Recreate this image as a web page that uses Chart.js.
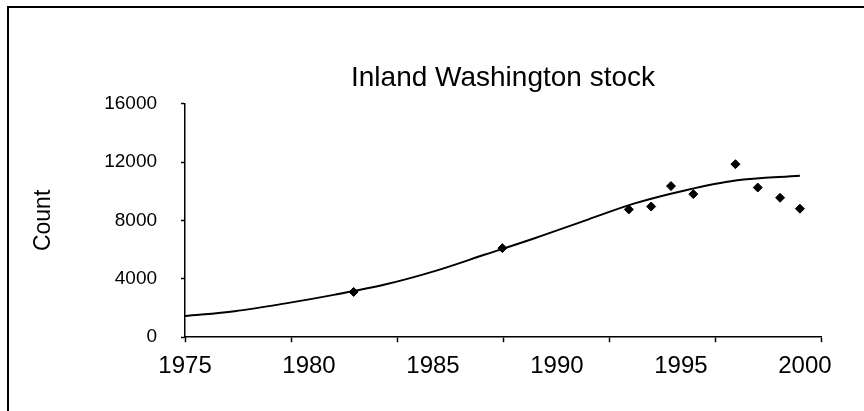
<!DOCTYPE html>
<html>
<head>
<meta charset="utf-8">
<script src="https://cdn.jsdelivr.net/npm/chart.js@4/dist/chart.umd.min.js"></script>
<style>
  html, body { margin: 0; padding: 0; background: #fff; overflow: hidden; }
  #wrap { position: relative; width: 864px; height: 411px; }
  #frame { position: absolute; left: 7px; top: 6px; width: 900px; height: 450px;
           border-left: 2px solid #000; border-top: 2px solid #000; pointer-events: none; }
  canvas { position: absolute; left: 0; top: 0; }
</style>
</head>
<body>
<div id="wrap">
  <canvas id="myChart" width="864" height="411"></canvas>
  <div id="frame"></div>
</div>
<script>
// observed counts (years as read against the printed axis labels)
const obsYears  = [1981.8, 1987.8, 1992.9, 1993.8, 1994.6, 1995.5, 1997.2, 1998.1, 1999.0, 1999.8];
const obsCounts = [3100, 6100, 8750, 8950, 10350, 9800, 11850, 10250, 9550, 8800];

// fitted curve
const fitYears  = [1975.0, 1977.0, 1979.0, 1981.0, 1983.1, 1985.1, 1987.1, 1989.1, 1991.1, 1993.1, 1995.2, 1997.2, 1999.8];
const fitCounts = [1450, 1780, 2300, 2900, 3620, 4540, 5660, 6780, 7970, 9150, 10070, 10730, 11060];

const xTickLabels = [1975, 1980, 1985, 1990, 1995, 2000];
const xAxisMax = 2000.65;
const yTicks = [0, 4000, 8000, 12000, 16000];

const font = "'Liberation Sans', Arial, sans-serif";

const ctx = document.getElementById('myChart').getContext('2d');
const chart = new Chart(ctx, {
  type: 'scatter',
  data: {
    datasets: [
      {
        label: 'fit',
        type: 'line',
        data: fitYears.map((y, i) => ({x: y, y: fitCounts[i]})),
        borderColor: '#000',
        borderWidth: 2,
        pointRadius: 0,
        tension: 0.4,
        cubicInterpolationMode: 'monotone',
        xAxisID: 'x'
      },
      {
        label: 'count',
        data: obsYears.map((y, i) => ({x: y, y: obsCounts[i]})),
        pointStyle: 'rectRot',
        pointRadius: 4.5,
        backgroundColor: '#000',
        borderColor: '#000',
        borderWidth: 1,
        xAxisID: 'x'
      }
    ]
  },
  options: {
    responsive: false,
    animation: false,
    devicePixelRatio: 1,
    layout: { padding: { left: 26, right: 43, top: 0, bottom: 20 } },
    plugins: {
      legend: { display: false },
      tooltip: { enabled: false },
      title: {
        display: true,
        text: 'Inland Washington stock',
        fullSize: false,
        color: '#000',
        font: { family: font, size: 28, weight: 'normal' },
        padding: { top: 61, bottom: 9 }
      }
    },
    scales: {
      xMarks: {
        type: 'linear',
        position: 'bottom',
        weight: 0,
        min: 0,
        max: 6,
        ticks: { display: false, stepSize: 1 },
        grid: { drawOnChartArea: false, drawTicks: true, tickLength: 5, color: '#000', tickWidth: 1.5 },
        border: { display: true, color: '#000', width: 1.5 }
      },
      x: {
        type: 'linear',
        position: 'bottom',
        weight: 1,
        min: 1975,
        max: xAxisMax,
        afterBuildTicks: (scale) => { scale.ticks = xTickLabels.map(v => ({value: v})); },
        ticks: {
          color: '#000',
          padding: 10,
          maxRotation: 0,
          autoSkip: false,
          font: { family: font, size: 24 },
          callback: (v) => String(v)
        },
        grid: { display: false, drawTicks: false },
        border: { display: false }
      },
      y: {
        type: 'linear',
        position: 'left',
        min: 0,
        max: 16000,
        afterBuildTicks: (scale) => { scale.ticks = yTicks.map(v => ({value: v})); },
        ticks: {
          color: '#000',
          padding: 24,
          font: { family: font, size: 19 },
          callback: (v) => String(v)
        },
        grid: { drawOnChartArea: false, drawTicks: true, tickLength: 4, color: '#000', tickWidth: 1.5 },
        border: { display: true, color: '#000', width: 1.5 },
        title: {
          display: true,
          text: 'Count',
          color: '#000',
          font: { family: font, size: 23 },
          padding: { top: 4, bottom: 22.6 }
        }
      }
    }
  }
});
</script>
</body>
</html>
